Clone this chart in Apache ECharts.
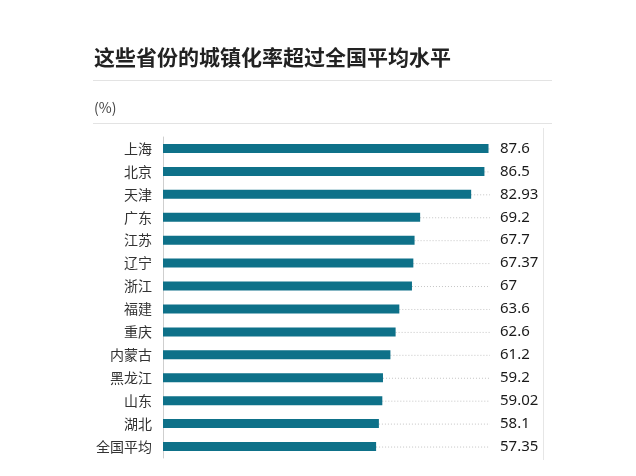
<!DOCTYPE html>
<html>
<head>
<meta charset="utf-8">
<script src="https://cdn.jsdelivr.net/npm/echarts@6/dist/echarts.min.js"></script>
<style>
  html, body { margin: 0; padding: 0; background: #fff; }
  #chart { width: 636px; height: 476px; }
</style>
</head>
<body>
<div id="chart"></div>
<script>
// 城镇化率 (%)
var provinces = ["上海", "北京", "天津", "广东", "江苏", "辽宁", "浙江", "福建", "重庆", "内蒙古", "黑龙江", "山东", "湖北", "全国平均"];
var rates = [87.6, 86.5, 82.93, 69.2, 67.7, 67.37, 67, 63.6, 62.6, 61.2, 59.2, 59.02, 58.1, 57.35];
var rateLabels = ["87.6", "86.5", "82.93", "69.2", "67.7", "67.37", "67", "63.6", "62.6", "61.2", "59.2", "59.02", "58.1", "57.35"];
var axisMax = 88;

var chart = echarts.init(document.getElementById("chart"));

var option = {
  backgroundColor: "#fff",
  animation: false,
  title: {
    text: "这些省份的城镇化率超过全国平均水平",
    left: 89,
    top: 42,
    textStyle: {
      color: "#222",
      fontSize: 21,
      fontWeight: "bold",
      fontFamily: "Noto Sans CJK SC"
    }
  },
  graphic: [
    { type: "line", shape: { x1: 93, y1: 80.5, x2: 552, y2: 80.5 }, style: { stroke: "#e3e3e3", lineWidth: 1 } },
    { type: "line", shape: { x1: 93, y1: 123.5, x2: 552, y2: 123.5 }, style: { stroke: "#e3e3e3", lineWidth: 1 } },
    { type: "line", shape: { x1: 543.5, y1: 128, x2: 543.5, y2: 460 }, style: { stroke: "#e6e6e6", lineWidth: 1 } },
    {
      type: "text", left: 94, top: 101,
      style: { text: "(%)", fill: "#444", fontSize: 14, fontFamily: "Noto Sans CJK SC" }
    }
  ],
  grid: { left: 163, right: 146, top: 137, height: 321 },
  xAxis: {
    type: "value",
    min: 0,
    max: axisMax,
    show: false
  },
  yAxis: {
    type: "category",
    data: provinces,
    inverse: true,
    axisLine: { show: true, lineStyle: { color: "#cfcfcf", width: 1 } },
    axisTick: { show: false },
    axisLabel: {
      color: "#333",
      fontSize: 14,
      margin: 11,
      fontFamily: "Noto Sans CJK SC"
    }
  },
  series: [
    {
      type: "bar",
      data: rates,
      barWidth: 9,
      itemStyle: { color: "#0e7189" },
      z: 3
    },
    {
      type: "custom",
      data: rates.map(function (v, i) { return [v, i]; }),
      encode: { x: 0, y: 1 },
      z: 2,
      renderItem: function (params, api) {
        var idx = params.dataIndex;
        var start = api.coord([api.value(0), api.value(1)]);
        var end = api.coord([axisMax, api.value(1)]);
        return {
          type: "group",
          children: [
            {
              type: "line",
              shape: { x1: start[0], y1: start[1] + 0.5, x2: end[0], y2: end[1] + 0.5 },
              style: { stroke: "#c4c4c4", lineWidth: 1, lineDash: [1, 2] }
            },
            {
              type: "text",
              x: end[0] + 10,
              y: end[1],
              style: {
                text: rateLabels[idx],
                fill: "#1a1a1a",
                fontSize: 15,
                fontFamily: "Noto Sans",
                verticalAlign: "middle",
                align: "left"
              }
            }
          ]
        };
      }
    }
  ]
};

chart.setOption(option);
</script>
</body>
</html>
